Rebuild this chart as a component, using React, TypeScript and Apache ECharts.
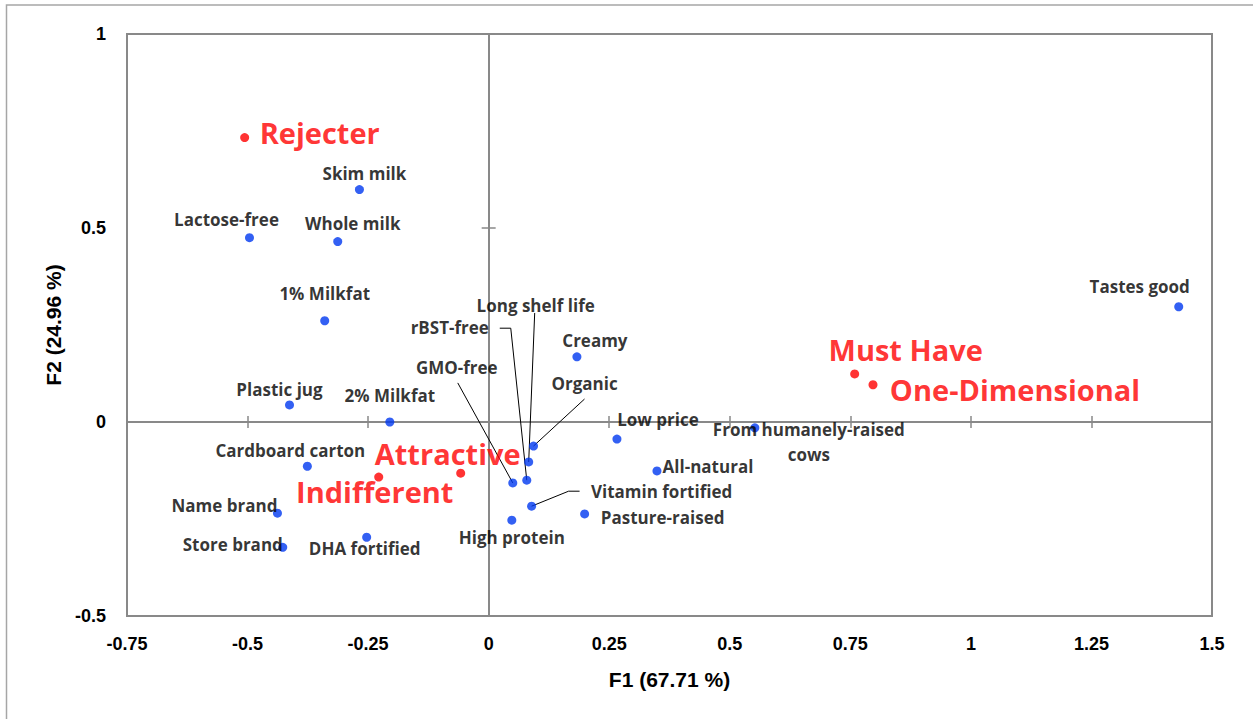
import React, { useEffect, useRef } from "react";
import * as echarts from "echarts";

// ---- data ----
const attributes = [
  "Skim milk", "Lactose-free", "Whole milk", "1% Milkfat", "Plastic jug", "2% Milkfat",
  "Cardboard carton", "Name brand", "Store brand", "DHA fortified", "Creamy", "Organic",
  "Long shelf life", "rBST-free", "GMO-free", "Vitamin fortified", "High protein",
  "Low price", "All-natural", "Pasture-raised", "From humanely-raised cows", "Tastes good",
];
const attrF1 = [
  -0.268, -0.496, -0.313, -0.340, -0.413, -0.205,
  -0.376, -0.438, -0.427, -0.253, 0.183, 0.093,
  0.083, 0.079, 0.050, 0.089, 0.048,
  0.266, 0.349, 0.199, 0.552, 1.431,
];
const attrF2 = [
  0.599, 0.475, 0.465, 0.261, 0.044, 0.0,
  -0.114, -0.235, -0.323, -0.297, 0.168, -0.062,
  -0.103, -0.150, -0.157, -0.217, -0.253,
  -0.044, -0.126, -0.237, -0.015, 0.297,
];

const classes = ["Rejecter", "Attractive", "Indifferent", "Must Have", "One-Dimensional"];
const classF1 = [-0.506, -0.058, -0.228, 0.759, 0.797];
const classF2 = [0.733, -0.132, -0.142, 0.124, 0.096];

const xAxisTitle = "F1 (67.71 %)";
const yAxisTitle = "F2 (24.96 %)";

// ---- layout (pixel offsets of labels / leader lines relative to their point) ----
const attrLabelOffsets: number[][] = [
  [5, -16], [-23, -18], [15, -18], [0, -27], [-10, -15], [0, -27],
  [-17, -16], [-53, -8], [-50, -3], [-2, 11], [18, -16], [51, -63],
  [7, -156], [-77, -153], [-56, -115], [130, -15], [0, 17],
  [41, -20], [51, -4], [78, 4], [54, 14], [-39, -20],
];
const classLabelOffsets: number[][] = [[75, -5], [-13, -20], [-4, 14], [51, -24], [142, 5]];

const leaderPaths: Record<string, number[][]> = {
  "Organic": [[51, -47]],
  "Long shelf life": [[6, -149]],
  "rBST-free": [[-16, -152], [-27, -152]],
  "GMO-free": [[-55, -100]],
  "Vitamin fortified": [[37, -15], [48, -15]],
};
const wrapped: Record<string, string> = {
  "From humanely-raised cows": "From humanely-raised\ncows",
};

const GRAY = "#898989";
const tickFont = { fontFamily: "'Liberation Sans', Arial, sans-serif", fontWeight: "bold" as const, fontSize: 18, color: "#000" };
const titleFont = { fontFamily: "'Liberation Sans', Arial, sans-serif", fontWeight: "bold" as const, fontSize: 21, color: "#000" };

export default function App() {
  const ref = useRef<HTMLDivElement>(null);

  useEffect(() => {
    if (!ref.current) return;
    const chart = echarts.init(ref.current, undefined, { renderer: "svg" });

    const baseX = { type: "value" as const, min: -0.75, max: 1.5, interval: 0.25 };
    const baseY = { type: "value" as const, min: -0.5, max: 1, interval: 0.5 };

    const leaderData = attributes
      .map((n, i) => (leaderPaths[n] ? [attrF1[i], attrF2[i], i] : null))
      .filter((d) => d !== null);

    const option: any = {
      animation: false,
      backgroundColor: "#fff",
      graphic: [
        {
          type: "rect",
          shape: { x: 6.5, y: 5, width: 1400, height: 1000 },
          style: { fill: "none", stroke: "#a6a6a6", lineWidth: 1.5 },
          silent: true,
          z: -10,
        },
      ],
      grid: {
        left: 127, top: 34, right: 41, bottom: 103,
        show: true, borderColor: GRAY, borderWidth: 2, backgroundColor: "transparent",
      },
      xAxis: [
        {
          ...baseX, position: "bottom",
          axisLine: { show: false, onZero: false },
          axisTick: { show: false }, splitLine: { show: false },
          axisLabel: { ...tickFont, margin: 19 },
          name: xAxisTitle, nameLocation: "middle", nameGap: 53,
          nameTextStyle: titleFont,
        },
        {
          ...baseX, position: "bottom",
          axisLine: { show: true, onZero: true, onZeroAxisIndex: 0, lineStyle: { color: GRAY, width: 2 } },
          axisTick: { show: true, inside: false, length: 6, lineStyle: { color: GRAY, width: 1.5 } },
          axisLabel: { show: false }, splitLine: { show: false },
        },
        {
          ...baseX, position: "bottom",
          axisLine: { show: true, onZero: true, onZeroAxisIndex: 0, lineStyle: { color: GRAY, width: 2 } },
          axisTick: { show: true, inside: true, length: 6, lineStyle: { color: GRAY, width: 1.5 } },
          axisLabel: { show: false }, splitLine: { show: false },
        },
      ],
      yAxis: [
        {
          ...baseY, position: "left",
          axisLine: { show: false, onZero: false },
          axisTick: { show: false }, splitLine: { show: false },
          axisLabel: { ...tickFont, margin: 21 },
          name: yAxisTitle, nameLocation: "middle", nameGap: 61,
          nameTextStyle: titleFont,
        },
        {
          ...baseY, position: "left",
          axisLine: { show: true, onZero: true, onZeroAxisIndex: 0, lineStyle: { color: GRAY, width: 2 } },
          axisTick: { show: true, inside: false, length: 7, lineStyle: { color: GRAY, width: 1.5 } },
          axisLabel: { show: false }, splitLine: { show: false },
        },
        {
          ...baseY, position: "left",
          axisLine: { show: true, onZero: true, onZeroAxisIndex: 0, lineStyle: { color: GRAY, width: 2 } },
          axisTick: { show: true, inside: true, length: 7, lineStyle: { color: GRAY, width: 1.5 } },
          axisLabel: { show: false }, splitLine: { show: false },
        },
      ],
      series: [
        {
          type: "custom",
          xAxisIndex: 0, yAxisIndex: 0,
          silent: true,
          z: 1,
          data: leaderData,
          renderItem: (params: any, api: any) => {
            const idx = api.value(2);
            const p = api.coord([api.value(0), api.value(1)]);
            const segs = leaderPaths[attributes[idx]];
            const pts = [p, ...segs.map((o) => [p[0] + o[0], p[1] + o[1]])];
            return {
              type: "polyline",
              shape: { points: pts },
              style: { stroke: "#000", lineWidth: 1, fill: "none" },
            };
          },
        },
        {
          type: "scatter",
          name: "Attributes",
          xAxisIndex: 0, yAxisIndex: 0,
          z: 3,
          symbol: "circle",
          symbolSize: 9,
          itemStyle: { color: "#0038f0" },
          data: attributes.map((n, i) => ({
            name: n,
            value: [attrF1[i], attrF2[i]],
            label: { offset: attrLabelOffsets[i] },
          })),
          label: {
            show: true,
            position: "inside",
            formatter: (p: any) => wrapped[p.name] || p.name,
            color: "#000",
            fontFamily: "'Open Sans', sans-serif",
            fontWeight: "bold",
            fontSize: 17,
            lineHeight: 25,
            align: "center",
            verticalAlign: "middle",
          },
        },
        {
          type: "scatter",
          name: "Classes",
          xAxisIndex: 0, yAxisIndex: 0,
          z: 4,
          symbol: "circle",
          symbolSize: 9,
          itemStyle: { color: "#ff0000" },
          data: classes.map((n, i) => ({
            name: n,
            value: [classF1[i], classF2[i]],
            label: { offset: classLabelOffsets[i] },
          })),
          label: {
            show: true,
            position: "inside",
            formatter: (p: any) => p.name,
            color: "#ff0000",
            fontFamily: "'Open Sans', sans-serif",
            fontWeight: "bold",
            fontSize: 29,
            lineHeight: 29,
            align: "center",
            verticalAlign: "middle",
          },
        },
      ],
    };

    chart.setOption(option);
    return () => chart.dispose();
  }, []);

  return (
    <div
      ref={ref}
      style={{ position: "absolute", left: 0, top: 0, width: 1253, height: 719 }}
    />
  );
}
